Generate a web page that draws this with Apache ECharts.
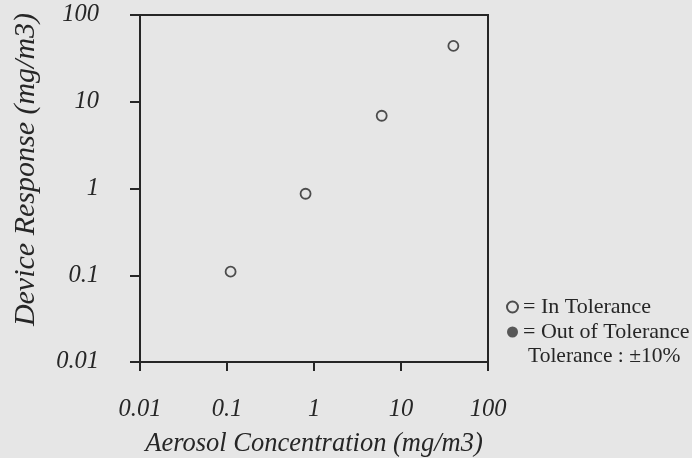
<!DOCTYPE html>
<html>
<head>
<meta charset="utf-8">
<script src="https://cdn.jsdelivr.net/npm/echarts@6/dist/echarts.min.js"></script>
<style>
html,body{margin:0;padding:0;background:#e6e6e6;}
#chart{width:692px;height:458px;}
</style>
</head>
<body>
<div id="chart"></div>
<script>
// Data
const aerosolConc = [0.11, 0.8, 6, 40];          // x (mg/m3)
const deviceResp  = [0.11, 0.87, 6.9, 44];       // y (mg/m3)
const outOfTolX = [];
const outOfTolY = [];
const tickLabels = ['0.01', '0.1', '1', '10', '100'];
const xTitle = 'Aerosol Concentration (mg/m3)';
const yTitle = 'Device Response (mg/m3)';
const legendNames = ['In Tolerance', 'Out of Tolerance'];
const toleranceNote = 'Tolerance : \u00b110%';

const inPts = aerosolConc.map((x, i) => [x, deviceResp[i]]);
const outPts = outOfTolX.map((x, i) => [x, outOfTolY[i]]);

function fmt(v) {
  const k = Math.round(Math.log10(v)) + 2;
  return tickLabels[k] !== undefined ? tickLabels[k] : '';
}

const ink = '#262626';
const serif = '"Liberation Serif", "DejaVu Serif", serif';

const chart = echarts.init(document.getElementById('chart'));
chart.setOption({
  backgroundColor: '#e6e6e6',
  animation: false,
  grid: {
    left: 140, right: 204, top: 15, bottom: 96,
    containLabel: false, outerBoundsMode: 'none',
    show: true, borderColor: ink, borderWidth: 2, backgroundColor: 'transparent'
  },
  xAxis: {
    type: 'log', logBase: 10, min: 0.01, max: 100,
    name: xTitle, nameLocation: 'middle', nameGap: 69,
    nameTextStyle: { fontFamily: serif, fontStyle: 'italic', fontSize: 26.5, color: ink },
    axisLine: { show: true, lineStyle: { color: ink, width: 2 } },
    axisTick: { show: true, inside: false, length: 9, lineStyle: { color: ink, width: 2 } },
    minorTick: { show: false },
    splitLine: { show: false },
    axisLabel: { formatter: fmt, margin: 35, fontFamily: serif, fontStyle: 'italic', fontSize: 24.5, color: ink }
  },
  yAxis: {
    type: 'log', logBase: 10, min: 0.01, max: 100,
    name: yTitle, nameLocation: 'middle', nameGap: 99, nameRotate: 90,
    nameTextStyle: { fontFamily: serif, fontStyle: 'italic', fontSize: 30, color: ink, padding: [0, 0, 0, 38] },
    axisLine: { show: true, lineStyle: { color: ink, width: 2 } },
    axisTick: { show: true, inside: false, length: 10, lineStyle: { color: ink, width: 2 } },
    splitLine: { show: false },
    axisLabel: { formatter: fmt, margin: 41, fontFamily: serif, fontStyle: 'italic', fontSize: 24.5, color: ink }
  },
  legend: {
    orient: 'vertical', left: 501, top: 291,
    itemWidth: 11, itemHeight: 11, itemGap: 3,
    icon: 'circle',
    data: legendNames,
    formatter: n => '= ' + n,
    textStyle: { fontFamily: serif, fontSize: 22, color: ink }
  },
  graphic: [{
    type: 'text', left: 528, top: 345,
    style: { text: toleranceNote, font: '21.5px ' + serif, fill: ink }
  }],
  series: [{
    name: legendNames[0], type: 'scatter', data: inPts,
    symbol: 'circle', symbolSize: 10,
    itemStyle: { color: 'rgba(0,0,0,0)', borderColor: ink, borderWidth: 1.8 }
  }, {
    name: legendNames[1], type: 'scatter', data: outPts,
    symbol: 'circle', symbolSize: 10,
    itemStyle: { color: '#333' }
  }]
});
</script>
</body>
</html>
